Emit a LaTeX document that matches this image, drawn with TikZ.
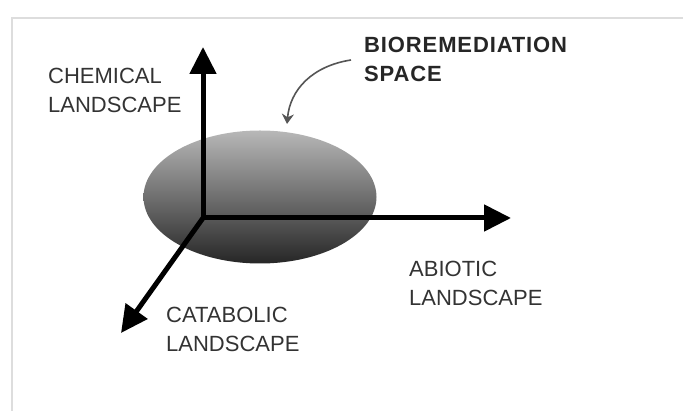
\documentclass[tikz,border=0pt]{standalone}
\usepackage{fontspec}
\setsansfont{Liberation Sans}
\usetikzlibrary{arrows.meta, shapes.geometric}
\definecolor{FrameGray}{HTML}{DDDDDD}
\definecolor{LabelInk}{HTML}{333333}
\definecolor{PointerInk}{HTML}{555555}
\tikzset{
  axisarrow/.style={-{Triangle[length=27pt, width=26pt]}, line width=5pt, draw=black},
  axislabel/.style={font=\sffamily\fontsize{22}{29}\selectfont, text=LabelInk,
                    align=left, anchor=base west, inner sep=0pt},
  spacelabel/.style={axislabel, font=\sffamily\bfseries\fontsize{22}{29}\selectfont\addfontfeature{LetterSpace=4},
                     text=black!85},
  spaceblob/.style={ellipse, minimum width=233pt, minimum height=133pt, inner sep=0pt,
                    top color=black!28, bottom color=black!85, shading angle=0},
  pointer/.style={-{Stealth[length=10pt, width=12pt]}, line width=1.6pt, draw=PointerInk}
}

\begin{document}
\begin{tikzpicture}[x=1pt, y=-1pt]
  \useasboundingbox (0,0) rectangle (683,411);
  \draw[FrameGray, line width=2pt] (12,411) -- (12,18) -- (683,18);

  % ellipse behind the axes
  \node[spaceblob] (space) at (260,197) {};

  \coordinate (origin)   at (203,218);
  \coordinate (chemtip)  at (203,47);
  \coordinate (abiotip)  at (511,218);
  \coordinate (catatip)  at (121,333);

  \draw[axisarrow] (origin) -- (chemtip);
  \draw[axisarrow] (origin) -- (abiotip);
  \draw[axisarrow] (origin) -- (catatip);

  % base anchor sits on the last line
  \node[axislabel]  (chemical)  at (48,113)  {CHEMICAL\\LANDSCAPE};
  \node[axislabel]  (abiotic)   at (409,306) {ABIOTIC\\LANDSCAPE};
  \node[axislabel]  (catabolic) at (166,352) {CATABOLIC\\LANDSCAPE};
  \node[spacelabel] (bioremed)  at (364,82)  {BIOREMEDIATION\\SPACE};

  \coordinate (pointstart) at (351,60);
  \coordinate (pointend)   at (287,124);
  \draw[pointer] (pointstart) .. controls (312,66) and (290,90) .. (pointend);
\end{tikzpicture}
\end{document}
